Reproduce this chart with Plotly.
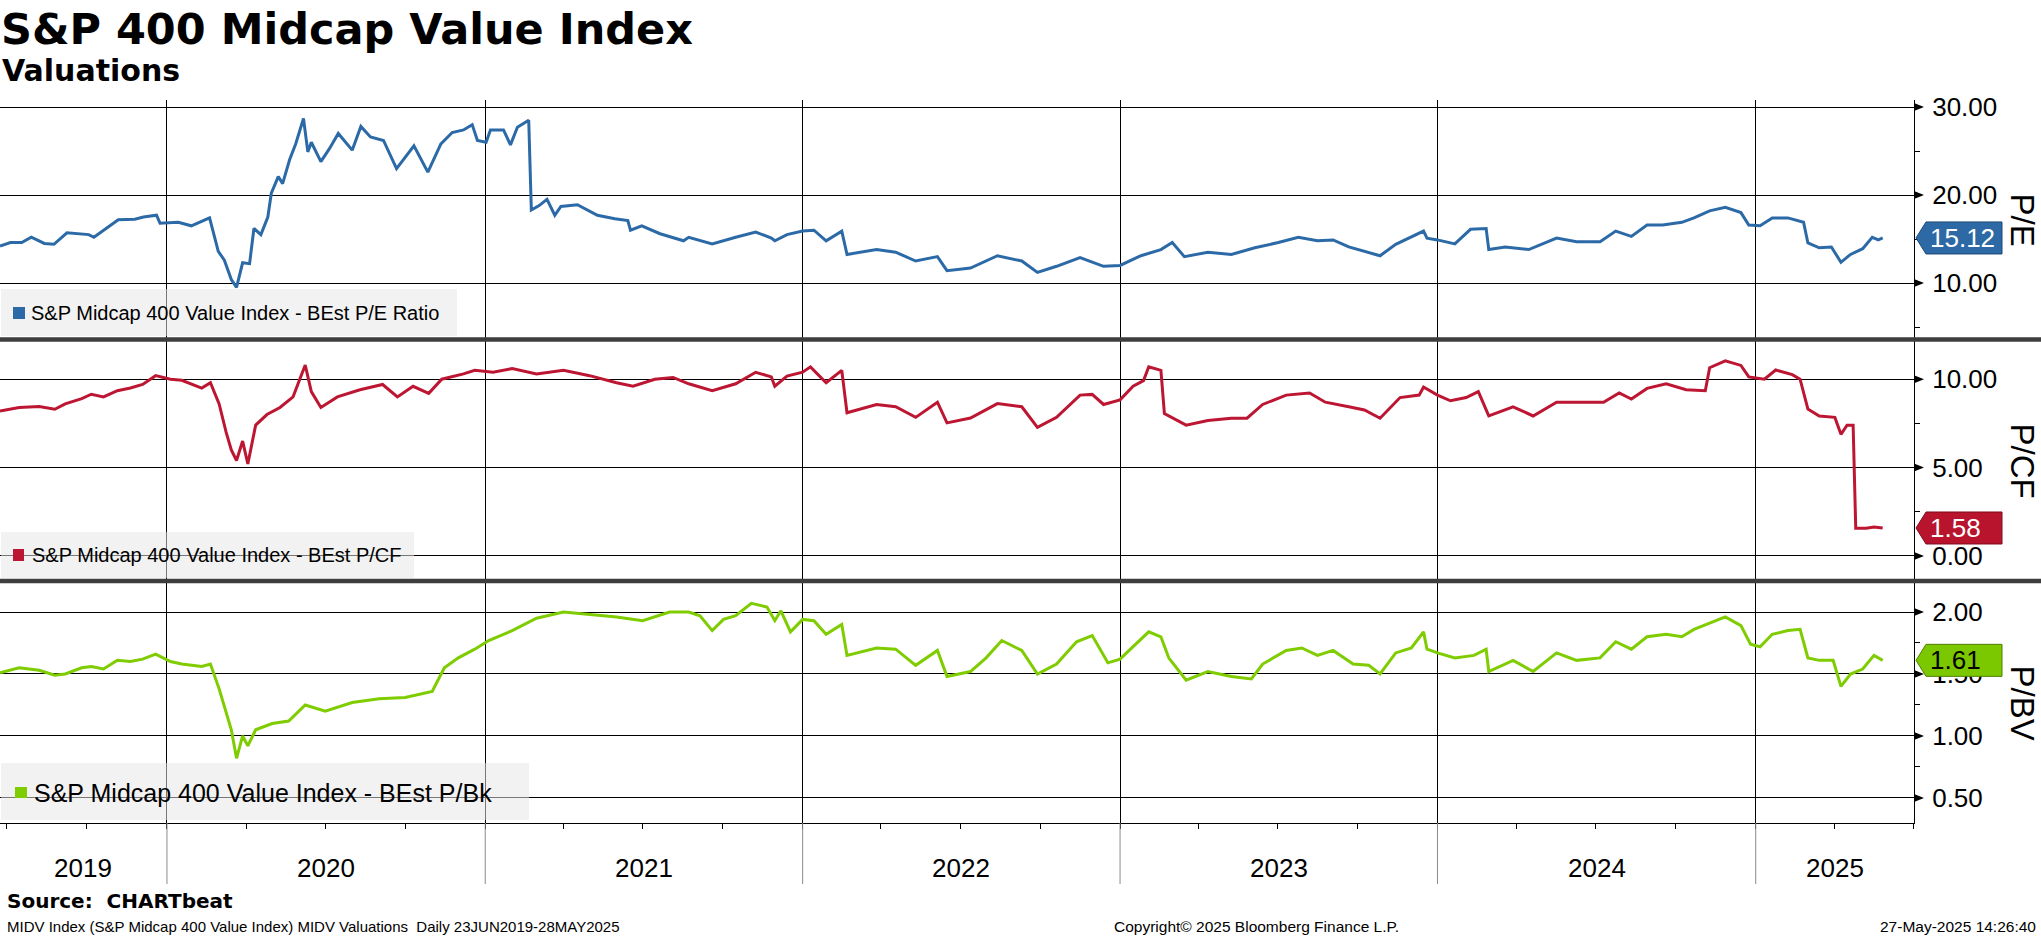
import pandas as pd
import plotly.graph_objects as go
from plotly.subplots import make_subplots

# ---------------- data ----------------
title_text = "S&P 400 Midcap Value Index"
subtitle_text = "Valuations"
series_names = ["S&P Midcap 400 Value Index - BEst P/E Ratio",
                "S&P Midcap 400 Value Index - BEst P/CF",
                "S&P Midcap 400 Value Index - BEst P/Bk"]
axis_titles = ["P/E", "P/CF", "P/BV"]
year_labels = [2019, 2020, 2021, 2022, 2023, 2024, 2025]

pe_dates = ["2019-06-23", "2019-07-05", "2019-07-18", "2019-07-29", "2019-08-13", "2019-08-24",
            "2019-09-08", "2019-09-20", "2019-10-03", "2019-10-09", "2019-10-24", "2019-11-06",
            "2019-11-25", "2019-12-05", "2019-12-20", "2019-12-24", "2020-01-14", "2020-01-29",
            "2020-02-19", "2020-02-29", "2020-03-07", "2020-03-15", "2020-03-21", "2020-03-28",
            "2020-04-05", "2020-04-10", "2020-04-18", "2020-04-26", "2020-04-30", "2020-05-08",
            "2020-05-13", "2020-05-21", "2020-05-28", "2020-06-06", "2020-06-11", "2020-06-15",
            "2020-06-26", "2020-07-06", "2020-07-16", "2020-08-01", "2020-08-11", "2020-08-22",
            "2020-09-06", "2020-09-21", "2020-10-11", "2020-10-27", "2020-11-11", "2020-11-24",
            "2020-12-07", "2020-12-17", "2020-12-23", "2021-01-02", "2021-01-07", "2021-01-22",
            "2021-01-30", "2021-02-07", "2021-02-20", "2021-02-23", "2021-03-04", "2021-03-13",
            "2021-03-22", "2021-03-29", "2021-04-17", "2021-05-10", "2021-05-30", "2021-06-14",
            "2021-06-17", "2021-06-30", "2021-07-21", "2021-08-17", "2021-08-23", "2021-09-19",
            "2021-10-16", "2021-11-08", "2021-11-26", "2021-11-30", "2021-12-14", "2022-01-01",
            "2022-01-14", "2022-01-28", "2022-02-15", "2022-02-21", "2022-03-27", "2022-04-18",
            "2022-05-11", "2022-06-05", "2022-06-16", "2022-07-13", "2022-08-13", "2022-09-10",
            "2022-09-28", "2022-10-20", "2022-11-16", "2022-12-13", "2023-01-01", "2023-01-25",
            "2023-02-17", "2023-03-02", "2023-03-16", "2023-04-12", "2023-05-09", "2023-06-05",
            "2023-07-02", "2023-07-25", "2023-08-16", "2023-09-03", "2023-09-21", "2023-10-09",
            "2023-10-27", "2023-11-14", "2023-12-02", "2023-12-16", "2023-12-20", "2024-01-01",
            "2024-01-21", "2024-02-08", "2024-02-26", "2024-02-29", "2024-03-19", "2024-04-15",
            "2024-05-17", "2024-06-09", "2024-07-06", "2024-07-24", "2024-08-11", "2024-08-29",
            "2024-09-16", "2024-10-08", "2024-10-22", "2024-11-09", "2024-11-27", "2024-12-15",
            "2024-12-24", "2025-01-06", "2025-01-20", "2025-02-07", "2025-02-25", "2025-03-02",
            "2025-03-15", "2025-03-29", "2025-04-09", "2025-04-20", "2025-05-04", "2025-05-15",
            "2025-05-22", "2025-05-27"]
pe_values = [14.2, 14.6, 14.6, 15.2, 14.5, 14.4,
             15.7, 15.6, 15.5, 15.2, 16.3, 17.2,
             17.25, 17.5, 17.7, 16.8, 16.9, 16.5,
             17.4, 13.6, 12.6, 10.4, 9.5, 12.3,
             12.2, 16.2, 15.5, 17.5, 20.2, 22.1,
             21.3, 24.0, 25.8, 28.7, 24.9, 26.0,
             23.8, 25.3, 27.0, 25.1, 27.8, 26.6,
             26.2, 23.0, 25.6, 22.6, 25.8, 27.1,
             27.4, 28.0, 26.2, 26.0, 27.4, 27.4,
             25.7, 27.7, 28.5, 18.3, 18.8, 19.5,
             17.7, 18.7, 18.9, 17.7, 17.3, 17.1,
             16.0, 16.5, 15.6, 14.8, 15.2, 14.45,
             15.2, 15.8, 15.1, 14.8, 15.5, 15.9,
             16.0, 14.8, 15.9, 13.25, 13.8, 13.5,
             12.5, 13.0, 11.4, 11.7, 13.1, 12.5,
             11.2, 11.9, 12.9, 11.9, 12.0, 13.1,
             13.8, 14.6, 13.0, 13.5, 13.25, 14.0,
             14.6, 15.2, 14.8, 14.9, 14.1, 13.6,
             13.1, 14.4, 15.2, 15.9, 15.1, 14.9,
             14.45, 16.1, 16.2, 13.8, 14.1, 13.8,
             15.1, 14.7, 14.7, 15.9, 15.3, 16.6,
             16.6, 16.9, 17.4, 18.2, 18.6, 18.0,
             16.6, 16.5, 17.4, 17.4, 16.9, 14.55,
             14.0, 14.1, 12.35, 13.25, 13.9, 15.2,
             14.9, 15.12]

pcf_dates = ["2019-06-23", "2019-07-15", "2019-08-07", "2019-08-25", "2019-09-06", "2019-09-25",
             "2019-10-06", "2019-10-20", "2019-11-05", "2019-11-20", "2019-12-04", "2019-12-19",
             "2020-01-05", "2020-01-18", "2020-02-10", "2020-02-20", "2020-03-01", "2020-03-09",
             "2020-03-15", "2020-03-21", "2020-03-28", "2020-04-03", "2020-04-12", "2020-04-25",
             "2020-05-10", "2020-05-25", "2020-06-08", "2020-06-15", "2020-06-26", "2020-07-15",
             "2020-08-10", "2020-09-05", "2020-09-22", "2020-10-10", "2020-10-28", "2020-11-12",
             "2020-12-07", "2020-12-20", "2021-01-10", "2021-02-01", "2021-03-01", "2021-04-01",
             "2021-05-01", "2021-06-01", "2021-06-20", "2021-07-15", "2021-08-05", "2021-08-23",
             "2021-09-19", "2021-10-16", "2021-11-08", "2021-11-26", "2021-11-30", "2021-12-14",
             "2022-01-01", "2022-01-10", "2022-01-28", "2022-02-15", "2022-02-21", "2022-03-27",
             "2022-04-18", "2022-05-11", "2022-06-05", "2022-06-16", "2022-07-13", "2022-08-13",
             "2022-09-10", "2022-09-28", "2022-10-20", "2022-11-16", "2022-11-30", "2022-12-13",
             "2023-01-01", "2023-01-16", "2023-01-28", "2023-02-03", "2023-02-17", "2023-02-21",
             "2023-03-18", "2023-04-12", "2023-05-09", "2023-05-27", "2023-06-14", "2023-07-11",
             "2023-08-07", "2023-08-25", "2023-09-21", "2023-10-09", "2023-10-27", "2023-11-19",
             "2023-12-11", "2023-12-16", "2024-01-01", "2024-01-16", "2024-02-03", "2024-02-17",
             "2024-02-29", "2024-03-28", "2024-04-20", "2024-05-17", "2024-06-09", "2024-07-10",
             "2024-07-28", "2024-08-11", "2024-08-29", "2024-09-20", "2024-10-13", "2024-11-04",
             "2024-11-09", "2024-11-27", "2024-12-15", "2024-12-24", "2025-01-11", "2025-01-24",
             "2025-02-12", "2025-02-21", "2025-03-02", "2025-03-15", "2025-04-02", "2025-04-09",
             "2025-04-16", "2025-04-23", "2025-04-26", "2025-05-08", "2025-05-17", "2025-05-27"]
pcf_values = [8.2, 8.4, 8.45, 8.3, 8.6, 8.9,
              9.15, 9.0, 9.35, 9.5, 9.7, 10.2,
              10.0, 9.94, 9.5, 9.8, 8.6, 7.0,
              6.0, 5.4, 6.5, 5.2, 7.4, 8.0,
              8.4, 9.0, 10.8, 9.3, 8.4, 9.0,
              9.4, 9.7, 9.0, 9.6, 9.2, 10.0,
              10.3, 10.5, 10.4, 10.6, 10.3, 10.5,
              10.2, 9.8, 9.6, 10.0, 10.1, 9.74,
              9.35, 9.74, 10.39, 10.13, 9.6, 10.18,
              10.4, 10.7, 9.8, 10.5, 8.1, 8.57,
              8.44, 7.84, 8.7, 7.53, 7.8, 8.62,
              8.44, 7.27, 7.84, 9.1, 9.14, 8.57,
              8.83, 9.6, 9.92, 10.7, 10.5, 8.05,
              7.4, 7.66, 7.79, 7.79, 8.57, 9.1,
              9.22, 8.7, 8.44, 8.26, 7.79, 8.96,
              9.1, 9.56, 9.1, 8.78, 8.96, 9.3,
              7.92, 8.44, 7.92, 8.7, 8.7, 8.7,
              9.22, 8.88, 9.48, 9.74, 9.4, 9.35,
              10.65, 11.04, 10.78, 10.13, 10.0, 10.52,
              10.26, 10.0, 8.31, 7.92, 7.84, 6.88,
              7.4, 7.4, 1.56, 1.56, 1.64, 1.58]

pb_dates = ["2019-06-23", "2019-07-15", "2019-08-07", "2019-08-25", "2019-09-06", "2019-09-25",
            "2019-10-06", "2019-10-20", "2019-11-05", "2019-11-20", "2019-12-04", "2019-12-19",
            "2020-01-05", "2020-01-18", "2020-02-10", "2020-02-20", "2020-03-01", "2020-03-09",
            "2020-03-15", "2020-03-21", "2020-03-28", "2020-04-03", "2020-04-12", "2020-05-01",
            "2020-05-20", "2020-06-08", "2020-07-01", "2020-08-01", "2020-09-01", "2020-10-01",
            "2020-11-01", "2020-11-15", "2020-12-01", "2020-12-20", "2021-01-05", "2021-02-01",
            "2021-03-01", "2021-04-01", "2021-05-01", "2021-06-01", "2021-07-01", "2021-08-01",
            "2021-08-23", "2021-09-05", "2021-09-19", "2021-10-02", "2021-10-16", "2021-11-03",
            "2021-11-21", "2021-11-30", "2021-12-07", "2021-12-18", "2022-01-01", "2022-01-14",
            "2022-01-28", "2022-02-15", "2022-02-21", "2022-03-27", "2022-04-18", "2022-05-11",
            "2022-06-05", "2022-06-16", "2022-07-13", "2022-07-31", "2022-08-18", "2022-09-10",
            "2022-09-28", "2022-10-20", "2022-11-12", "2022-11-30", "2022-12-18", "2023-01-01",
            "2023-01-16", "2023-02-03", "2023-02-17", "2023-02-26", "2023-03-18", "2023-04-12",
            "2023-05-09", "2023-06-01", "2023-06-14", "2023-07-11", "2023-07-29", "2023-08-16",
            "2023-09-03", "2023-09-26", "2023-10-14", "2023-10-27", "2023-11-14", "2023-12-02",
            "2023-12-16", "2023-12-20", "2024-01-01", "2024-01-21", "2024-02-12", "2024-02-26",
            "2024-02-29", "2024-03-28", "2024-04-20", "2024-05-17", "2024-06-09", "2024-07-06",
            "2024-07-24", "2024-08-11", "2024-08-29", "2024-09-20", "2024-10-08", "2024-10-22",
            "2024-11-09", "2024-11-27", "2024-12-15", "2024-12-26", "2025-01-06", "2025-01-20",
            "2025-02-07", "2025-02-21", "2025-03-02", "2025-03-15", "2025-03-31", "2025-04-09",
            "2025-04-20", "2025-05-04", "2025-05-17", "2025-05-27"]
pb_values = [1.51, 1.55, 1.53, 1.49, 1.50, 1.55,
             1.56, 1.54, 1.61, 1.60, 1.62, 1.66,
             1.60, 1.58, 1.56, 1.58, 1.38, 1.20,
             1.05, 0.82, 1.00, 0.92, 1.05, 1.10,
             1.12, 1.25, 1.20, 1.27, 1.30, 1.31,
             1.36, 1.55, 1.63, 1.70, 1.77, 1.85,
             1.95, 2.00, 1.98, 1.96, 1.93, 2.00,
             2.00, 1.97, 1.85, 1.94, 1.97, 2.07,
             2.04, 1.93, 2.01, 1.84, 1.94, 1.93,
             1.82, 1.90, 1.65, 1.71, 1.70, 1.57,
             1.69, 1.48, 1.52, 1.63, 1.77, 1.69,
             1.50, 1.58, 1.76, 1.81, 1.59, 1.62,
             1.72, 1.84, 1.80, 1.63, 1.45, 1.52,
             1.48, 1.46, 1.58, 1.69, 1.71, 1.65,
             1.69, 1.58, 1.57, 1.50, 1.67, 1.71,
             1.84, 1.70, 1.67, 1.63, 1.65, 1.70,
             1.52, 1.61, 1.52, 1.67, 1.61, 1.63,
             1.76, 1.70, 1.80, 1.82, 1.80, 1.86,
             1.91, 1.96, 1.89, 1.74, 1.72, 1.82,
             1.85, 1.86, 1.63, 1.61, 1.61, 1.40,
             1.50, 1.54, 1.65, 1.61]

y_tickvals = [[10, 20, 30], [0, 5, 10], [0.5, 1.0, 1.5, 2.0]]
y_minor = [5, 2.5, 0.25]
y_ranges = [[3.58, 30.80], [-1.42, 12.19], [0.298, 2.242]]
x_range = ["2019-06-23", "2025-07-02"]

# ---------------- styling ----------------
line_colors = ["#2c6aa7", "#bd1632", "#7fcc00"]
box_colors = ["#2d69a5", "#b8142e", "#7cc800"]
box_edges = ["#1d4a78", "#7e0c1e", "#4f8000"]
box_text_colors = ["white", "white", "black"]
FONT = "Liberation Sans, Arial, sans-serif"
BOLD = "DejaVu Sans, Verdana, sans-serif"

W, H = 2041, 936
PLOT_W, TOP, BOT = 1914, 100, 823
PH = BOT - TOP


def xp(px):
    return px / PLOT_W


def yp(py):
    return (BOT - py) / PH


fig = make_subplots(rows=3, cols=1, shared_xaxes=True, vertical_spacing=0)

all_dates = [pe_dates, pcf_dates, pb_dates]
all_vals = [pe_values, pcf_values, pb_values]
for i in range(3):
    fig.add_trace(go.Scatter(x=pd.to_datetime(all_dates[i]), y=all_vals[i], mode="lines",
                             line=dict(color=line_colors[i], width=3), name=series_names[i],
                             showlegend=False, hoverinfo="skip"), row=i + 1, col=1)

domains = [[yp(339.5), 1.0], [yp(581), yp(340.5)], [0.0, yp(582)]]
year_starts = pd.to_datetime([f"{y}-01-01" for y in year_labels[1:]])

for i in range(3):
    yname = "yaxis" if i == 0 else f"yaxis{i + 1}"
    xname = "xaxis" if i == 0 else f"xaxis{i + 1}"
    fig.layout[yname].update(
        domain=domains[i], range=y_ranges[i], side="right",
        tickvals=y_tickvals[i], tickformat=".2f",
        ticks="outside", ticklen=12, tickcolor="rgba(0,0,0,0)",
        tickfont=dict(family=FONT, size=26, color="black"),
        showgrid=True, gridcolor="black", gridwidth=1, zeroline=False,
        showline=True, linecolor="black", linewidth=1,
        minor=dict(dtick=y_minor[i], tick0=0, ticks="outside", ticklen=5,
                   tickcolor="black", showgrid=False),
        fixedrange=True)
    fig.layout[xname].update(
        range=x_range, type="date", tickvals=year_starts, showticklabels=False,
        showgrid=True, gridcolor="black", gridwidth=1, zeroline=False,
        ticks="outside" if i == 2 else "", ticklen=5, tickcolor="black",
        showline=(i == 2), linecolor="black", linewidth=1,
        minor=dict(dtick="M3", tick0="2019-01-01", ticks="outside" if i == 2 else "",
                   ticklen=5, tickcolor="black", showgrid=False))

shapes = []
annotations = []

# separators between panels
for py in [339.5, 581]:
    shapes.append(dict(type="line", xref="paper", yref="paper", x0=0, x1=xp(W),
                       y0=yp(py), y1=yp(py), line=dict(color="#3e3e3e", width=4.5), layer="above"))

# arrow markers at major ticks on the right axis
for i in range(3):
    yref = "y" if i == 0 else f"y{i + 1}"
    for v in y_tickvals[i]:
        shapes.append(dict(type="path", xref="paper", yref=yref, xsizemode="pixel", ysizemode="pixel",
                           xanchor=1.0, yanchor=v, path="M 0,-4 L 10,0 L 0,4 Z",
                           fillcolor="black", line=dict(width=0), layer="above"))

# last-value boxes
for i in range(3):
    yref = "y" if i == 0 else f"y{i + 1}"
    last = all_vals[i][-1]
    shapes.append(dict(type="path", xref="paper", yref=yref, xsizemode="pixel", ysizemode="pixel",
                       xanchor=1.0, yanchor=last,
                       path="M 2,0 L 12,16 L 88,16 L 88,-16 L 12,-16 Z",
                       fillcolor=box_colors[i], line=dict(color=box_edges[i], width=1), layer="above"))
    annotations.append(dict(xref="paper", yref=yref, x=1.0, y=last, xanchor="left", yanchor="middle",
                            xshift=14, text=f"{last:.2f}", showarrow=False,
                            font=dict(family=FONT, size=26, color=box_text_colors[i])))

# axis titles on the far right
centers = [219.5, 460.5, 702.5]
for i in range(3):
    annotations.append(dict(xref="paper", yref="paper", x=xp(2022), y=yp(centers[i]),
                            xanchor="center", yanchor="middle", textangle=90,
                            text=axis_titles[i], showarrow=False,
                            font=dict(family=FONT, size=33, color="black")))

# legend boxes
legend_boxes = [(1, 457, 289, 336), (1, 414, 532, 578), (1, 529, 763, 820)]
legend_squares = [(13, 25, 307, 319), (13, 24, 549, 561), (15, 27, 787, 798)]
legend_text_x = [29, 30, 32]
legend_sizes = [20, 20, 25]
for i in range(3):
    x0, x1, y0, y1 = legend_boxes[i]
    shapes.append(dict(type="rect", xref="paper", yref="paper", x0=xp(x0), x1=xp(x1),
                       y0=yp(y1), y1=yp(y0), fillcolor="rgba(231,231,231,0.52)",
                       line=dict(width=0), layer="above"))
    sx0, sx1, sy0, sy1 = legend_squares[i]
    shapes.append(dict(type="rect", xref="paper", yref="paper", x0=xp(sx0), x1=xp(sx1),
                       y0=yp(sy1), y1=yp(sy0), fillcolor=line_colors[i],
                       line=dict(width=0), layer="above"))
    annotations.append(dict(xref="paper", yref="paper", x=xp(legend_text_x[i]),
                            y=yp((sy0 + sy1) / 2), xanchor="left", yanchor="middle",
                            text=series_names[i], showarrow=False,
                            font=dict(family=FONT, size=legend_sizes[i], color="black")))

# grey year separators below the axis and year labels
x_lo, x_hi = pd.Timestamp(x_range[0]), pd.Timestamp(x_range[1])
for ys in year_starts:
    shapes.append(dict(type="line", xref="x3", yref="paper", x0=ys, x1=ys, y0=0, y1=yp(884),
                       line=dict(color="#8a8a8a", width=1), layer="above"))
for y in year_labels:
    a = max(pd.Timestamp(f"{y}-01-01"), x_lo)
    b = min(pd.Timestamp(f"{y + 1}-01-01"), x_hi)
    mid = a + (b - a) / 2
    annotations.append(dict(xref="x3", yref="paper", x=mid, y=yp(868), xanchor="center",
                            yanchor="middle", text=str(y), showarrow=False,
                            font=dict(family=FONT, size=26, color="black")))

# titles and footer
annotations += [
    dict(xref="paper", yref="paper", x=xp(-1), y=yp(29), xanchor="left", yanchor="middle",
         text="<b>" + title_text + "</b>", showarrow=False,
         font=dict(family=BOLD, size=43, color="black")),
    dict(xref="paper", yref="paper", x=xp(0), y=yp(71), xanchor="left", yanchor="middle",
         text="<b>" + subtitle_text + "</b>", showarrow=False,
         font=dict(family=BOLD, size=30, color="black")),
    dict(xref="paper", yref="paper", x=xp(5), y=yp(901), xanchor="left", yanchor="middle",
         text="<b>Source:\u00a0 CHARTbeat</b>", showarrow=False,
         font=dict(family=BOLD, size=20, color="black")),
    dict(xref="paper", yref="paper", x=xp(5), y=yp(926), xanchor="left", yanchor="middle",
         text="MIDV Index (S&P Midcap 400 Value Index) MIDV Valuations\u00a0 Daily 23JUN2019-28MAY2025",
         showarrow=False, font=dict(family=FONT, size=15, color="black")),
    dict(xref="paper", yref="paper", x=xp(1112), y=yp(926), xanchor="left", yanchor="middle",
         text="Copyright\u00a9 2025 Bloomberg Finance L.P.", showarrow=False,
         font=dict(family=FONT, size=15.5, color="black")),
    dict(xref="paper", yref="paper", x=xp(2038), y=yp(926), xanchor="right", yanchor="middle",
         text="27-May-2025 14:26:40", showarrow=False,
         font=dict(family=FONT, size=15.5, color="black")),
]

fig.update_layout(width=W, height=H, margin=dict(l=0, r=W - PLOT_W, t=TOP, b=H - BOT),
                  paper_bgcolor="white", plot_bgcolor="white", showlegend=False,
                  shapes=shapes, annotations=annotations, hovermode=False)

fig.write_html("out.html", config={"displayModeBar": False},
               post_script="document.body.style.margin='0';document.body.style.overflow='hidden';")
